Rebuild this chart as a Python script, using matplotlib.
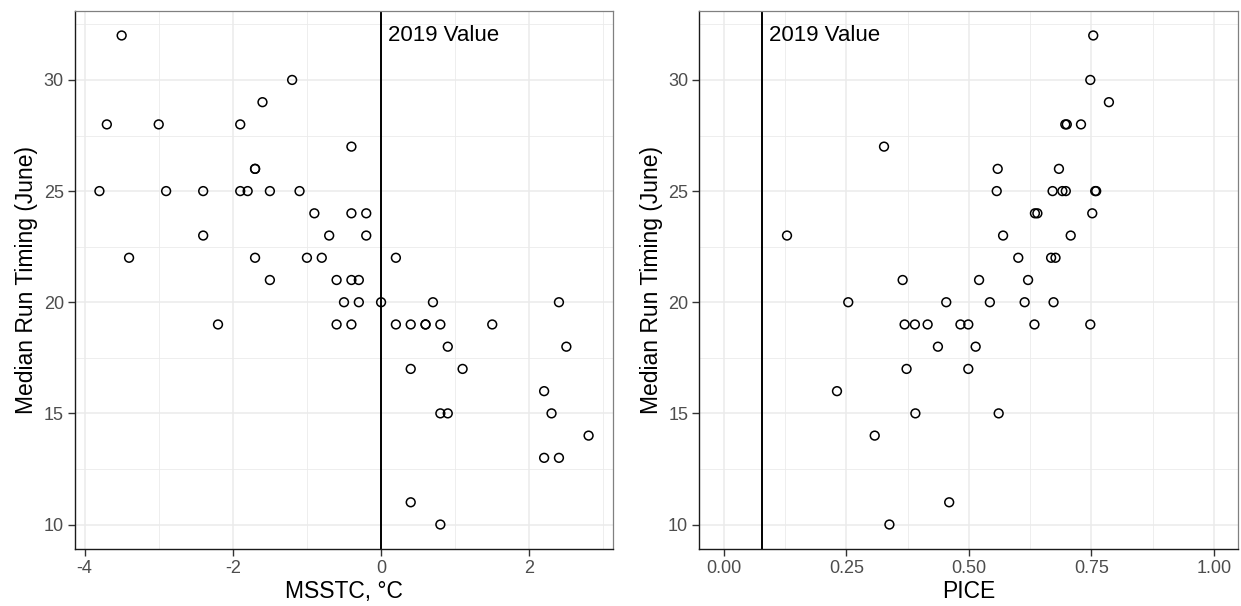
import numpy as np
import matplotlib
matplotlib.use("Agg")
import matplotlib.pyplot as plt
from matplotlib.ticker import MultipleLocator

plt.rcParams['font.family'] = ['Liberation Sans', 'DejaVu Sans']
plt.rcParams['axes.unicode_minus'] = False

# left panel: MSSTC vs median run timing
msstc = [-3.5, -3.7, -3.0, -1.9, -1.6, -1.2, -0.4, -1.7, -1.7,
         -3.8, -2.9, -2.4, -1.9, -1.8, -1.5, -1.1,
         -0.9, -0.4, -0.2, -2.4, -0.7, -0.2,
         -3.4, -1.7, -1.0, -0.8, 0.2,
         -1.5, -0.6, -0.4, -0.3,
         -0.5, -0.3, 0.0, 0.7, 2.4,
         -2.2, -0.6, -0.4, 0.2, 0.4, 0.6, 0.6, 0.8, 1.5,
         0.9, 2.5, 0.4, 1.1, 2.2, 0.8, 0.9, 2.3, 2.8, 2.2, 2.4, 0.4, 0.8]
timing_l = [32, 28, 28, 28, 29, 30, 27, 26, 26,
            25, 25, 25, 25, 25, 25, 25,
            24, 24, 24, 23, 23, 23,
            22, 22, 22, 22, 22,
            21, 21, 21, 21,
            20, 20, 20, 20, 20,
            19, 19, 19, 19, 19, 19, 19, 19, 19,
            18, 18, 17, 17, 16, 15, 15, 15, 14, 13, 13, 11, 10]
msstc_2019 = 0.0

# right panel: PICE vs median run timing
pice = [0.129, 0.327, 0.365, 0.254, 0.454, 0.369, 0.390, 0.416, 0.483, 0.499,
        0.437, 0.373, 0.231, 0.391, 0.308, 0.460, 0.338, 0.543, 0.614, 0.673,
        0.634, 0.748, 0.514, 0.499, 0.561, 0.754, 0.748, 0.786, 0.697, 0.700,
        0.729, 0.559, 0.684, 0.557, 0.671, 0.691, 0.698, 0.758, 0.760, 0.635,
        0.640, 0.752, 0.570, 0.708, 0.601, 0.668, 0.677, 0.521, 0.621]
timing_r = [23, 27, 21, 20, 20, 19, 19, 19, 19, 19,
            18, 17, 16, 15, 14, 11, 10, 20, 20, 20,
            19, 19, 18, 17, 15, 32, 30, 29, 28, 28,
            28, 26, 26, 25, 25, 25, 25, 25, 25, 24,
            24, 24, 23, 23, 22, 22, 22, 21, 21]
pice_2019 = 0.078

fig = plt.figure(figsize=(12.41, 6.06), dpi=100)
ax1 = fig.add_axes([0.0604, 0.0941, 0.4336, 0.8877])
ax2 = fig.add_axes([0.5635, 0.0941, 0.4343, 0.8877])

def style(ax):
    ax.set_axisbelow(True)
    ax.grid(True, which='major', color='#EBEBEB', linewidth=1.1)
    ax.grid(True, which='minor', color='#EBEBEB', linewidth=0.6)
    ax.yaxis.set_major_locator(MultipleLocator(5))
    ax.yaxis.set_minor_locator(MultipleLocator(2.5))
    ax.set_ylim(8.9, 33.1)
    for s in ['top', 'right']:
        ax.spines[s].set_color('#808080')
        ax.spines[s].set_linewidth(0.9)
    for s in ['left', 'bottom']:
        ax.spines[s].set_color('#1A1A1A')
        ax.spines[s].set_linewidth(1.0)
    ax.tick_params(which='major', length=5, width=1.0, color='#333333',
                   labelsize=13, labelcolor='#4D4D4D', pad=3)
    ax.tick_params(which='minor', length=0)
    ax.set_ylabel('Median Run Timing (June)', fontsize=16.5, labelpad=4)

ax1.scatter(msstc, timing_l, s=40, facecolors='none', edgecolors='black', linewidths=1.1, zorder=3)
ax1.axvline(msstc_2019, color='black', linewidth=1.4, zorder=2)
ax1.annotate('2019 Value', xy=(msstc_2019, 32), xytext=(5, 0), textcoords='offset points',
             va='center', ha='left', fontsize=16)
ax1.set_xlim(-4.13, 3.13)
ax1.xaxis.set_major_locator(MultipleLocator(2))
ax1.xaxis.set_minor_locator(MultipleLocator(1))
style(ax1)
ax1.set_xlabel('MSSTC, °C', fontsize=16.5, labelpad=2)

ax2.scatter(pice, timing_r, s=40, facecolors='none', edgecolors='black', linewidths=1.1, zorder=3)
ax2.axvline(pice_2019, color='black', linewidth=1.4, zorder=2)
ax2.annotate('2019 Value', xy=(pice_2019, 32), xytext=(5, 0), textcoords='offset points',
             va='center', ha='left', fontsize=16)
ax2.set_xlim(-0.05, 1.05)
ax2.set_xticks([0, 0.25, 0.5, 0.75, 1.0])
ax2.set_xticklabels(['0.00', '0.25', '0.50', '0.75', '1.00'])
ax2.xaxis.set_minor_locator(MultipleLocator(0.125))
style(ax2)
ax2.set_xlabel('PICE', fontsize=16.5, labelpad=2)

fig.savefig('out.png', dpi=100)
